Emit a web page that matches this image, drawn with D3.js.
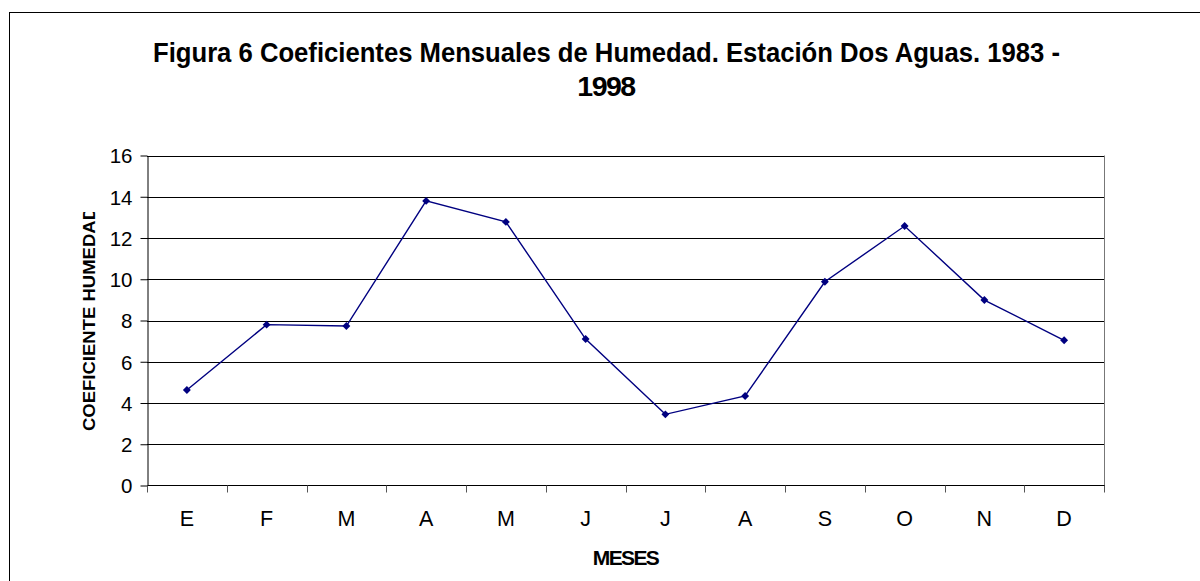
<!DOCTYPE html>
<html>
<head>
<meta charset="utf-8">
<script src="https://cdn.jsdelivr.net/npm/d3@7"></script>
<style>
  body { margin: 0; background: #fff; }
  svg { display: block; font-family: "Liberation Sans", Arial, sans-serif; }
</style>
</head>
<body>
<svg id="chart" width="1200" height="581"></svg>
<script>
// monthly humidity coefficients
const months = ['E', 'F', 'M', 'A', 'M', 'J', 'J', 'A', 'S', 'O', 'N', 'D'];
const values = [4.63, 7.8, 7.73, 13.8, 12.78, 7.1, 3.45, 4.34, 9.88, 12.58, 8.99, 7.04];
const yTicks = [0, 2, 4, 6, 8, 10, 12, 14, 16];

const titleLines = ['Figura 6  Coeficientes Mensuales de Humedad. Estación Dos Aguas. 1983 -', '1998'];
const xTitle = 'MESES';
const yTitle = 'COEFICIENTE HUMEDAD';

const svg = d3.select('#chart');
const m = { left: 147, top: 155.5, right: 1104, bottom: 485.5 };

// outer chart border (runs off the bottom/right like the original)
svg.append('rect')
  .attr('x', 9.5).attr('y', 12.5)
  .attr('width', 1300).attr('height', 700)
  .attr('fill', '#fff').attr('stroke', '#000').attr('stroke-width', 1);

const idx = months.map((_, i) => i);
const x = d3.scaleBand().domain(idx).range([m.left, m.right]);
const y = d3.scaleLinear().domain([0, 16]).range([m.bottom, m.top]);

// gridlines
svg.append('g')
  .selectAll('line').data(yTicks.filter(d => d > 0)).enter().append('line')
  .attr('x1', m.left).attr('x2', m.right)
  .attr('y1', d => Math.round(y(d)) + 0.5).attr('y2', d => Math.round(y(d)) + 0.5)
  .attr('stroke', '#000').attr('stroke-width', 1);

// right edge of plot area
svg.append('line')
  .attr('x1', m.right + 0.5).attr('x2', m.right + 0.5)
  .attr('y1', m.top).attr('y2', m.bottom)
  .attr('stroke', '#777');

// y axis
const yAxis = svg.append('g')
  .attr('transform', `translate(${m.left + 0.5},0)`)
  .call(d3.axisLeft(y).tickValues(yTicks).tickSize(7).tickPadding(8).tickSizeOuter(0));
yAxis.selectAll('text').attr('font-size', 20.5).attr('fill', '#000')
  .attr('font-family', '"Liberation Sans", Arial, sans-serif')
  .attr('dy', '0.36em');
yAxis.select('.domain').attr('stroke', '#000');

// x axis: ticks at band boundaries, labels at band centres
const xAxis = svg.append('g').attr('transform', `translate(0,${m.bottom})`);
xAxis.append('line')
  .attr('x1', m.left).attr('x2', m.right + 1)
  .attr('stroke', '#000');
const bounds = idx.map(i => x(i)).concat([m.right]);
xAxis.selectAll('line.tk').data(bounds).enter().append('line')
  .attr('class', 'tk')
  .attr('x1', d => Math.round(d) + 0.5).attr('x2', d => Math.round(d) + 0.5)
  .attr('y1', 0).attr('y2', 7)
  .attr('stroke', '#555');
xAxis.selectAll('text').data(idx).enter().append('text')
  .attr('x', d => x(d) + x.bandwidth() / 2)
  .attr('y', 40.5)
  .attr('text-anchor', 'middle')
  .attr('font-size', 21.5)
  .text(d => months[d]);

// line + diamond markers
const line = d3.line()
  .x((d, i) => x(i) + x.bandwidth() / 2)
  .y(d => y(d));
svg.append('path')
  .datum(values)
  .attr('d', line)
  .attr('fill', 'none')
  .attr('stroke', '#000080')
  .attr('stroke-width', 1.4);

const diamond = d3.symbol().type(d3.symbolDiamond2).size(40);
svg.append('g').selectAll('path').data(values).enter().append('path')
  .attr('d', diamond)
  .attr('transform', (d, i) => `translate(${x(i) + x.bandwidth() / 2},${y(d)})`)
  .attr('fill', '#000080');

// titles (Excel-style condensed bold); keep the double space after "6"
const title = svg.append('g').style('white-space', 'pre');
title.append('text')
  .attr('x', 153).attr('y', 62)
  .attr('font-size', 28.5)
  .attr('font-weight', 'bold')
  .attr('textLength', 907)
  .attr('lengthAdjust', 'spacingAndGlyphs')
  .text(titleLines[0]);
title.append('text')
  .attr('x', 606).attr('y', 96)
  .attr('text-anchor', 'middle')
  .attr('font-size', 28.5)
  .attr('font-weight', 'bold')
  .attr('letter-spacing', -1.5)
  .text(titleLines[1]);

svg.append('text')
  .attr('x', x(6))
  .attr('y', 565)
  .attr('text-anchor', 'middle')
  .attr('font-size', 21)
  .attr('font-weight', 'bold')
  .attr('letter-spacing', -1.6)
  .text(xTitle);

// y title is clipped at the top like in the original
svg.append('clipPath').attr('id', 'yclip')
  .append('rect').attr('x', 70).attr('y', 212).attr('width', 40).attr('height', 240);
svg.append('g').attr('clip-path', 'url(#yclip)')
  .append('text')
  .attr('transform', 'translate(95,431) rotate(-90)')
  .attr('font-size', 17)
  .attr('font-weight', 'bold')
  .attr('textLength', 224)
  .attr('lengthAdjust', 'spacingAndGlyphs')
  .text(yTitle);
</script>
</body>
</html>
